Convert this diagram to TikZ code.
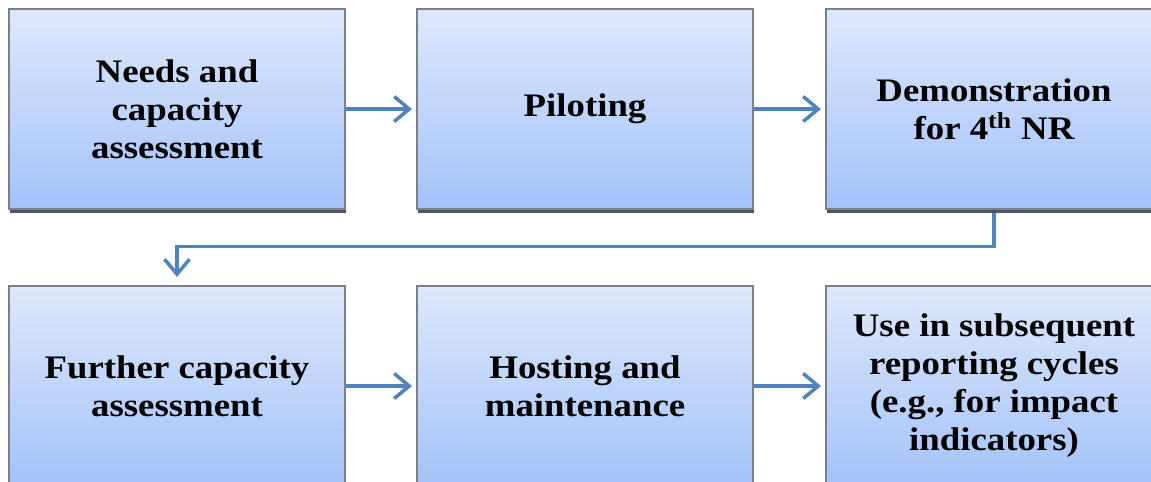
\documentclass[tikz,border=0pt]{standalone}
\usepackage{fontspec}
\setmainfont{Liberation Serif}[FakeStretch=1.12]
\usepackage{tikz}
\usetikzlibrary{positioning,calc,arrows.meta,shadows}

\definecolor{boxtop}{HTML}{DDE8FC}
\definecolor{boxbot}{HTML}{A3C2F9}
\definecolor{boxline}{HTML}{7A7F8C}
\definecolor{boxshade}{HTML}{4F5468}
\definecolor{flow}{HTML}{5182BE}

\tikzset{
    stage/.style={draw=boxline, line width=0.8pt, top color=boxtop, bottom color=boxbot,
        minimum width=6.72cm, minimum height=4cm, align=center, inner sep=4pt,
        drop shadow={shadow xshift=0.4pt, shadow yshift=-2pt, fill=boxshade, opacity=1},
        font=\fontsize{18.7}{21.6}\selectfont\bfseries},
    flowline/.style={draw=flow, line width=2pt, -{Straight Barb[length=0.3cm, width=0.5cm]}}
}

\begin{document}
\begin{tikzpicture}[x=0.02cm, y=-0.02cm]
    \useasboundingbox (0,0) rectangle (1151,481);
    \clip (0,0) rectangle (1151,481);

    % top row
    \node[stage] (needs) at (177,109) {Needs and\\capacity\\assessment};
    \node[stage] (pilot) at (585,109) {Piloting};
    \node[stage] (demo) at (994,109) {Demonstration\\for 4\textsuperscript{th} NR};

    % bottom row
    \node[stage] (further) at (177,386) {Further capacity\\assessment};
    \node[stage] (host) at (585,386) {Hosting and\\maintenance};
    \node[stage] (use) at (994,386) {Use in subsequent\\reporting cycles\\(e.g., for impact\\indicators)};

    \draw[flowline, shorten >=2.5pt] (needs.east) -- (pilot.west);
    \draw[flowline, shorten >=2.5pt] (pilot.east) -- (demo.west);
    \draw[flowline, shorten >=2.5pt] (demo.south) ++(0,3) -- ++(0,34) -| ($(further.north)+(0,-4)$);
    \draw[flowline, shorten >=2.5pt] (further.east) -- (host.west);
    \draw[flowline, shorten >=2.5pt] (host.east) -- (use.west);
\end{tikzpicture}
\end{document}
